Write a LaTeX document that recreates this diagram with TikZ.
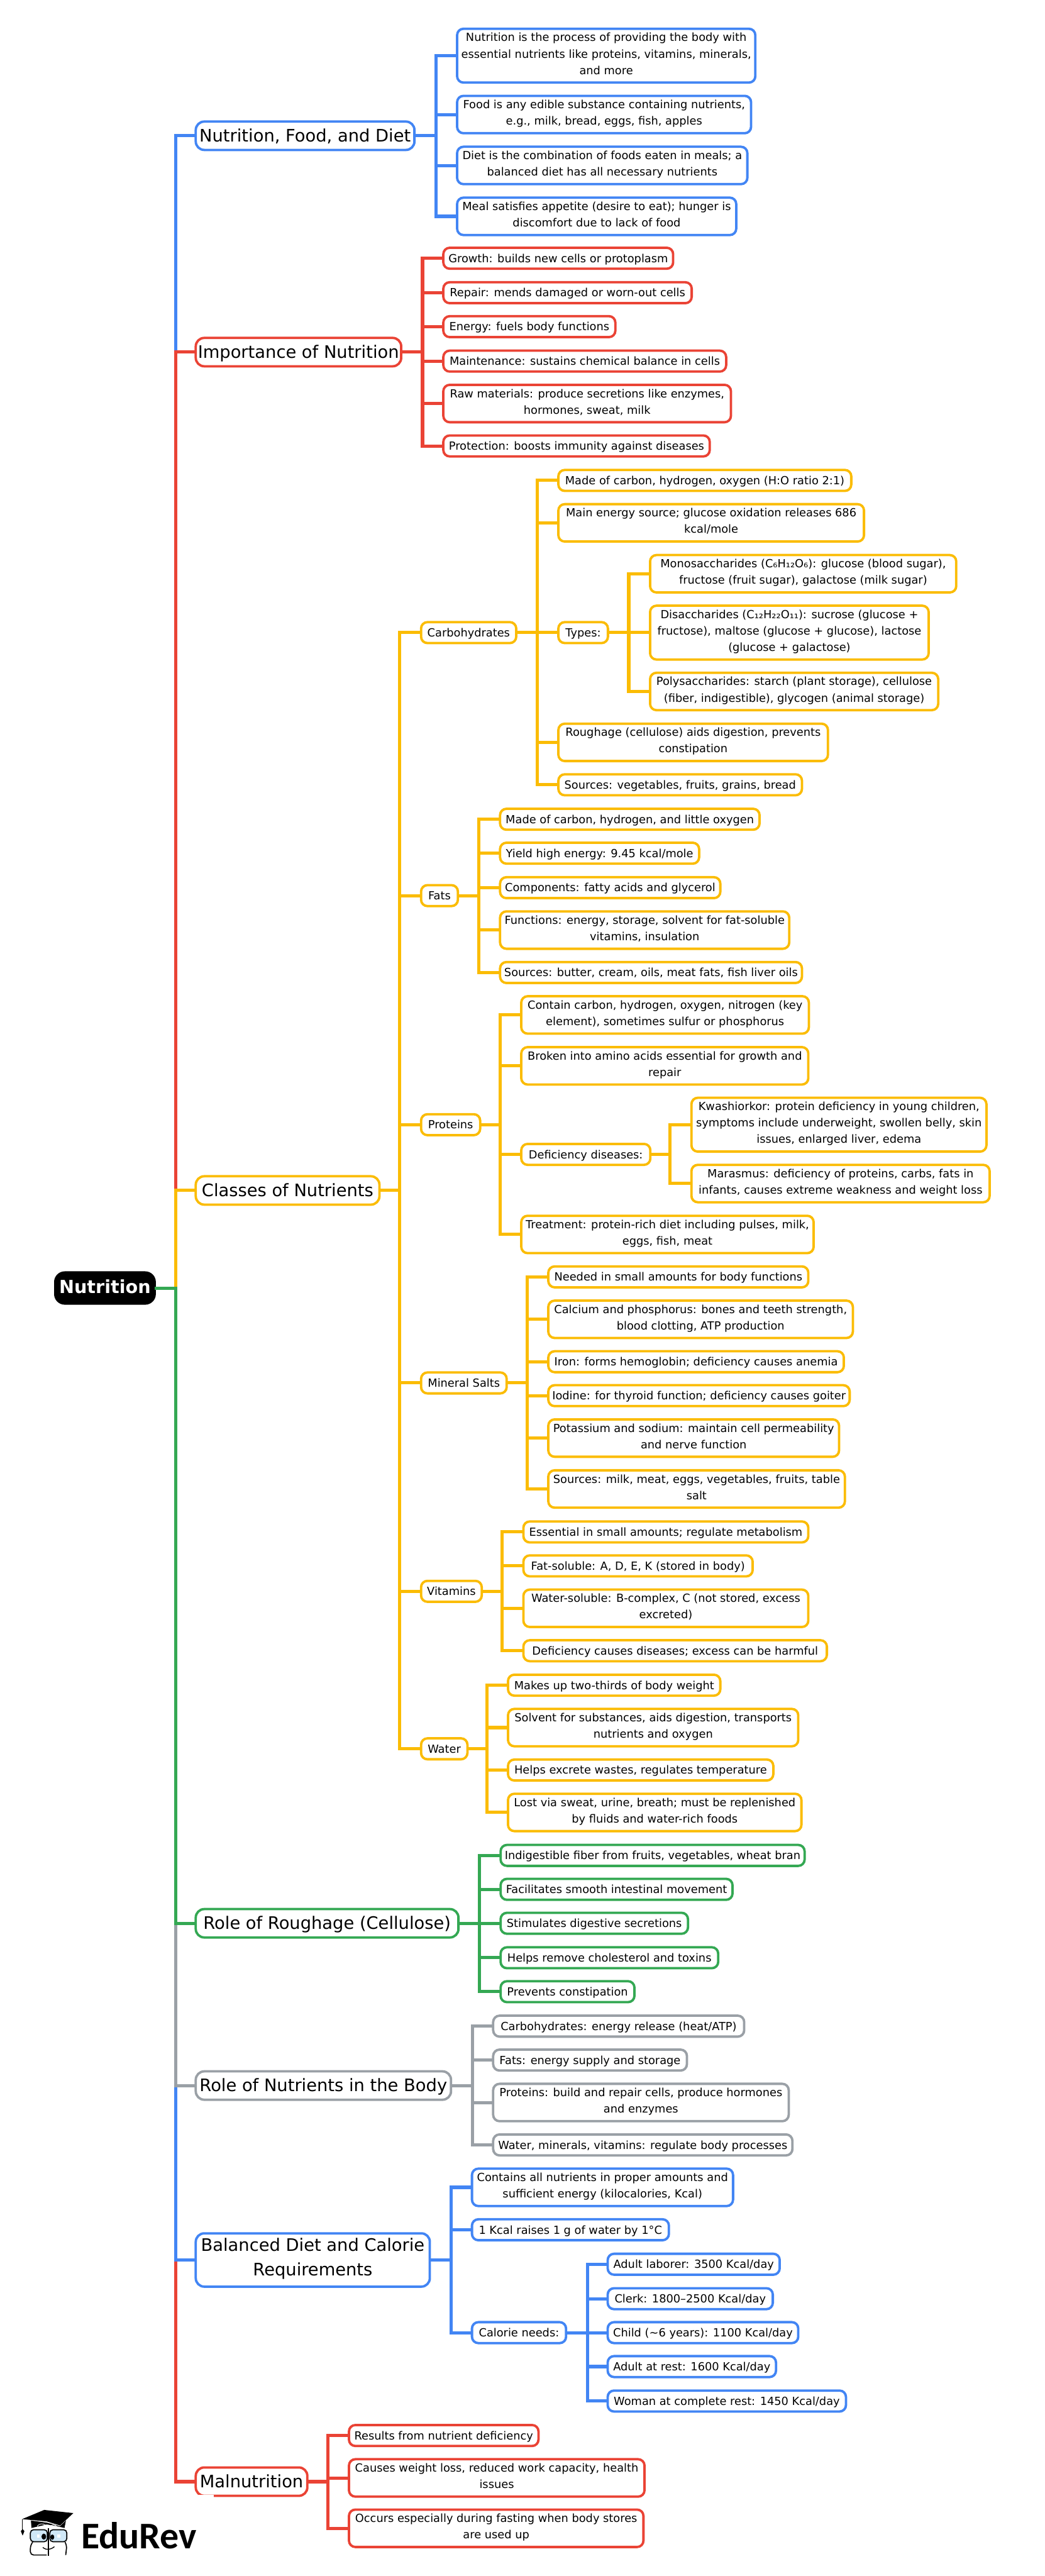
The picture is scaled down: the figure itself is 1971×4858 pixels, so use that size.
\documentclass[tikz,border=0pt]{standalone}
\usepackage{fontspec}
\setmainfont{DejaVu Sans}
\newfontfamily\logofont{Carlito}
\usepackage{tikz}
\definecolor{gblue}{RGB}{66,133,244}
\definecolor{gred}{RGB}{234,67,53}
\definecolor{gyellow}{RGB}{251,188,4}
\definecolor{ggreen}{RGB}{52,168,83}
\definecolor{ggray}{RGB}{154,160,166}
\definecolor{glass}{RGB}{208,232,247}
\newcommand\boxstrut{\vrule width0pt height.75\baselineskip depth.25\baselineskip}
\tikzset{wd/.style={minimum width={(#1-4.5)*0.5pt},xshift=1.125pt}}
\tikzstyle{box}=[draw,fill=white,line width=2.25pt,align=center,anchor=west,outer sep=0pt,inner sep=0pt,execute at begin node=\boxstrut,execute at end node=\boxstrut]
\tikzstyle{leaf}=[box,rounded corners=6pt,font=\fontsize{10.55}{15.5}\selectfont]
\tikzstyle{onel}=[minimum height=19.75pt]
\tikzstyle{twol}=[minimum height=35.25pt]
\tikzstyle{threel}=[minimum height=50.75pt]
\tikzstyle{bleaf}=[leaf,draw=gblue]
\tikzstyle{rleaf}=[leaf,draw=gred]
\tikzstyle{yleaf}=[leaf,draw=gyellow]
\tikzstyle{gleaf}=[leaf,draw=ggreen]
\tikzstyle{kleaf}=[leaf,draw=ggray]
\tikzstyle{main}=[box,rounded corners=8pt,font=\fontsize{16.2}{23}\selectfont]
\tikzstyle{blueln}=[draw=gblue,line width=3pt]
\tikzstyle{redln}=[draw=gred,line width=3pt]
\tikzstyle{yellowln}=[draw=gyellow,line width=3pt]
\tikzstyle{greenln}=[draw=ggreen,line width=3pt]
\tikzstyle{grayln}=[draw=ggray,line width=3pt]
\begin{document}
\begin{tikzpicture}[x=0.5pt,y=-0.5pt]
\useasboundingbox (0,0) rectangle (1971,4858);

% root and main branches
\node[box,draw=black,fill=black,text=white,rounded corners=9pt,wd=192,minimum height=29.25pt,font=\fontsize{17}{20}\selectfont\bfseries] (nutr) at (102,2429) {Nutrition};
\node[main,draw=gblue,wd=417,minimum height=26.75pt] (nfd) at (367,256) {Nutrition, Food, and Diet};
\node[main,draw=gred,wd=392,minimum height=26.75pt] (imp) at (367,664) {Importance of Nutrition};
\node[main,draw=gyellow,wd=351,minimum height=26.75pt] (cls) at (367,2245) {Classes of Nutrients};
\node[main,draw=ggreen,wd=500,minimum height=26.75pt] (rough) at (367,3627) {Role of Roughage (Cellulose)};
\node[main,draw=ggray,wd=486,minimum height=26.75pt] (role) at (367,3933) {Role of Nutrients in the Body};
\node[main,draw=gblue,wd=446,minimum height=50.25pt] (bal) at (367,4262) {Balanced Diet and Calorie\\Requirements};
\node[main,draw=gred,wd=215,minimum height=26.75pt] (mal) at (367,4680) {Malnutrition};

% nutrition, food, diet
\node[bleaf,threel,wd=567] (nfdA) at (860,105) {Nutrition is the process of providing the body with\\essential nutrients like proteins, vitamins, minerals,\\and more};
\node[bleaf,twol,wd=559] (nfdB) at (860,216) {Food is any edible substance containing nutrients,\\e.g., milk, bread, eggs, fish, apples};
\node[bleaf,twol,wd=552] (nfdC) at (860,312) {Diet is the combination of foods eaten in meals; a\\balanced diet has all necessary nutrients};
\node[bleaf,twol,wd=531] (nfdD) at (860,408) {Meal satisfies appetite (desire to eat); hunger is\\discomfort due to lack of food};

% importance
\node[rleaf,onel,wd=438] (impA) at (834,487) {Growth: builds new cells or protoplasm};
\node[rleaf,onel,wd=473] (impB) at (834,552) {Repair: mends damaged or worn-out cells};
\node[rleaf,onel,wd=329] (impC) at (834,616) {Energy: fuels body functions};
\node[rleaf,onel,wd=538] (impD) at (834,681) {Maintenance: sustains chemical balance in cells};
\node[rleaf,twol,wd=547] (impE) at (834,761) {Raw materials: produce secretions like enzymes,\\hormones, sweat, milk};
\node[rleaf,onel,wd=507] (impF) at (834,841) {Protection: boosts immunity against diseases};

% classes
\node[yleaf,onel,wd=184] (carb) at (792,1193) {Carbohydrates};
\node[yleaf,onel,wd=74] (fats) at (792,1689) {Fats};
\node[yleaf,onel,wd=116] (prot) at (792,2121) {Proteins};
\node[yleaf,onel,wd=166] (salt) at (792,2608) {Mineral Salts};
\node[yleaf,onel,wd=119] (vita) at (792,3001) {Vitamins};
\node[yleaf,onel,wd=92] (watr) at (792,3298) {Water};

% carbohydrates
\node[yleaf,onel,wd=557] (carbA) at (1051,906) {Made of carbon, hydrogen, oxygen (H:O ratio 2:1)};
\node[yleaf,twol,wd=581] (carbB) at (1051,986) {Main energy source; glucose oxidation releases 686\\kcal/mole};
\node[yleaf,onel,wd=98] (types) at (1051,1193) {Types:};
\node[yleaf,twol,wd=513] (carbD) at (1051,1400) {Roughage (cellulose) aids digestion, prevents\\constipation};
\node[yleaf,onel,wd=464] (carbE) at (1051,1480) {Sources: vegetables, fruits, grains, bread};
\node[yleaf,twol,wd=582] (typeA) at (1224,1082) {Monosaccharides (C₆H₁₂O₆): glucose (blood sugar),\\fructose (fruit sugar), galactose (milk sugar)};
\node[yleaf,threel,wd=530] (typeB) at (1224,1193) {Disaccharides (C₁₂H₂₂O₁₁): sucrose (glucose +\\fructose), maltose (glucose + glucose), lactose\\(glucose + galactose)};
\node[yleaf,twol,wd=548] (typeC) at (1224,1304) {Polysaccharides: starch (plant storage), cellulose\\(fiber, indigestible), glycogen (animal storage)};

% fats
\node[yleaf,onel,wd=494] (fatsA) at (941,1545) {Made of carbon, hydrogen, and little oxygen};
\node[yleaf,onel,wd=380] (fatsB) at (941,1609) {Yield high energy: 9.45 kcal/mole};
\node[yleaf,onel,wd=420] (fatsC) at (941,1674) {Components: fatty acids and glycerol};
\node[yleaf,twol,wd=550] (fatsD) at (941,1754) {Functions: energy, storage, solvent for fat-soluble\\vitamins, insulation};
\node[yleaf,onel,wd=574] (fatsE) at (941,1834) {Sources: butter, cream, oils, meat fats, fish liver oils};

% proteins
\node[yleaf,twol,wd=547] (protA) at (981,1914) {Contain carbon, hydrogen, oxygen, nitrogen (key\\element), sometimes sulfur or phosphorus};
\node[yleaf,twol,wd=546] (protB) at (981,2010) {Broken into amino acids essential for growth and\\repair};
\node[yleaf,onel,wd=248] (defi) at (981,2177) {Deficiency diseases:};
\node[yleaf,twol,wd=556] (protD) at (981,2328) {Treatment: protein-rich diet including pulses, milk,\\eggs, fish, meat};
\node[yleaf,threel,wd=561] (defiA) at (1302,2121) {Kwashiorkor: protein deficiency in young children,\\symptoms include underweight, swollen belly, skin\\issues, enlarged liver, edema};
\node[yleaf,twol,wd=567] (defiB) at (1302,2232) {Marasmus: deficiency of proteins, carbs, fats in\\infants, causes extreme weakness and weight loss};

% mineral salts
\node[yleaf,onel,wd=495] (saltA) at (1032,2408) {Needed in small amounts for body functions};
\node[yleaf,twol,wd=579] (saltB) at (1032,2488) {Calcium and phosphorus: bones and teeth strength,\\blood clotting, ATP production};
\node[yleaf,onel,wd=562] (saltC) at (1032,2568) {Iron: forms hemoglobin; deficiency causes anemia};
\node[yleaf,onel,wd=573] (saltD) at (1032,2632) {Iodine: for thyroid function; deficiency causes goiter};
\node[yleaf,twol,wd=553] (saltE) at (1032,2712) {Potassium and sodium: maintain cell permeability\\and nerve function};
\node[yleaf,twol,wd=564] (saltF) at (1032,2808) {Sources: milk, meat, eggs, vegetables, fruits, table\\salt};

% vitamins
\node[yleaf,onel,wd=542] (vitaA) at (985,2889) {Essential in small amounts; regulate metabolism};
\node[yleaf,onel,wd=437] (vitaB) at (985,2953) {Fat-soluble: A, D, E, K (stored in body)};
\node[yleaf,twol,wd=542] (vitaC) at (985,3033) {Water-soluble: B-complex, C (not stored, excess\\excreted)};
\node[yleaf,onel,wd=577] (vitaD) at (985,3113) {Deficiency causes diseases; excess can be harmful};

% water
\node[yleaf,onel,wd=405] (watrA) at (956,3178) {Makes up two-thirds of body weight};
\node[yleaf,twol,wd=552] (watrB) at (956,3258) {Solvent for substances, aids digestion, transports\\nutrients and oxygen};
\node[yleaf,onel,wd=505] (watrC) at (956,3338) {Helps excrete wastes, regulates temperature};
\node[yleaf,twol,wd=558] (watrD) at (956,3418) {Lost via sweat, urine, breath; must be replenished\\by fluids and water-rich foods};

% roughage
\node[gleaf,onel,wd=578] (rougA) at (942,3499) {Indigestible fiber from fruits, vegetables, wheat bran};
\node[gleaf,onel,wd=442] (rougB) at (942,3563) {Facilitates smooth intestinal movement};
\node[gleaf,onel,wd=358] (rougC) at (942,3627) {Stimulates digestive secretions};
\node[gleaf,onel,wd=415] (rougD) at (942,3692) {Helps remove cholesterol and toxins};
\node[gleaf,onel,wd=257] (rougE) at (942,3756) {Prevents constipation};

% nutrients in the body
\node[kleaf,onel,wd=478] (roleA) at (928,3821) {Carbohydrates: energy release (heat/ATP)};
\node[kleaf,onel,wd=370] (roleB) at (928,3885) {Fats: energy supply and storage};
\node[kleaf,twol,wd=562] (roleC) at (928,3965) {Proteins: build and repair cells, produce hormones\\and enzymes};
\node[kleaf,onel,wd=569] (roleD) at (928,4045) {Water, minerals, vitamins: regulate body processes};

% balanced diet
\node[bleaf,twol,wd=497] (balA) at (888,4125) {Contains all nutrients in proper amounts and\\sufficient energy (kilocalories, Kcal)};
\node[bleaf,onel,wd=376] (balB) at (888,4205) {1 Kcal raises 1 g of water by 1°C};
\node[bleaf,onel,wd=182] (need) at (888,4399) {Calorie needs:};
\node[bleaf,onel,wd=329] (needA) at (1144,4270) {Adult laborer: 3500 Kcal/day};
\node[bleaf,onel,wd=316] (needB) at (1144,4335) {Clerk: 1800–2500 Kcal/day};
\node[bleaf,onel,wd=364] (needC) at (1144,4399) {Child (\char`\~6 years): 1100 Kcal/day};
\node[bleaf,onel,wd=322] (needD) at (1144,4463) {Adult at rest: 1600 Kcal/day};
\node[bleaf,onel,wd=454] (needE) at (1144,4528) {Woman at complete rest: 1450 Kcal/day};

% malnutrition
\node[rleaf,onel,wd=362] (malA) at (656,4593) {Results from nutrient deficiency};
\node[rleaf,twol,wd=562] (malB) at (656,4673) {Causes weight loss, reduced work capacity, health\\issues};
\node[rleaf,twol,wd=560] (malC) at (656,4768) {Occurs especially during fasting when body stores\\are used up};

% vertical bus lines
\coordinate (busmain) at (331,0);
\coordinate (busnfd) at (822,0);
\coordinate (busimp) at (797,0);
\coordinate (buscls) at (754,0);
\coordinate (buscarb) at (1013,0);
\coordinate (bustype) at (1186,0);
\coordinate (busfats) at (903,0);
\coordinate (busprot) at (944,0);
\coordinate (busdefi) at (1264,0);
\coordinate (bussalt) at (994,0);
\coordinate (busvita) at (947,0);
\coordinate (buswatr) at (919,0);
\coordinate (busroug) at (904,0);
\coordinate (busrole) at (891,0);
\coordinate (busbal) at (851,0);
\coordinate (busneed) at (1108,0);
\coordinate (busmal) at (618,0);

\foreach \c/\s in {nfd/blueln,imp/redln,cls/yellowln,mal/redln,bal/blueln,role/grayln,rough/greenln}
  \draw[\s] (nutr.east) -- (nutr.east -| busmain) |- (\c.west);
\foreach \c in {nfdA,nfdB,nfdC,nfdD}
  \draw[blueln] (nfd.east) -- (nfd.east -| busnfd) |- (\c.west);
\foreach \c in {impA,impB,impC,impD,impE,impF}
  \draw[redln] (imp.east) -- (imp.east -| busimp) |- (\c.west);
\foreach \c in {carb,fats,prot,salt,vita,watr}
  \draw[yellowln] (cls.east) -- (cls.east -| buscls) |- (\c.west);
\foreach \c in {carbA,carbB,types,carbD,carbE}
  \draw[yellowln] (carb.east) -- (carb.east -| buscarb) |- (\c.west);
\foreach \c in {typeA,typeB,typeC}
  \draw[yellowln] (types.east) -- (types.east -| bustype) |- (\c.west);
\foreach \c in {fatsA,fatsB,fatsC,fatsD,fatsE}
  \draw[yellowln] (fats.east) -- (fats.east -| busfats) |- (\c.west);
\foreach \c in {protA,protB,defi,protD}
  \draw[yellowln] (prot.east) -- (prot.east -| busprot) |- (\c.west);
\foreach \c in {defiA,defiB}
  \draw[yellowln] (defi.east) -- (defi.east -| busdefi) |- (\c.west);
\foreach \c in {saltA,saltB,saltC,saltD,saltE,saltF}
  \draw[yellowln] (salt.east) -- (salt.east -| bussalt) |- (\c.west);
\foreach \c in {vitaA,vitaB,vitaC,vitaD}
  \draw[yellowln] (vita.east) -- (vita.east -| busvita) |- (\c.west);
\foreach \c in {watrA,watrB,watrC,watrD}
  \draw[yellowln] (watr.east) -- (watr.east -| buswatr) |- (\c.west);
\foreach \c in {rougA,rougB,rougC,rougD,rougE}
  \draw[greenln] (rough.east) -- (rough.east -| busroug) |- (\c.west);
\foreach \c in {roleA,roleB,roleC,roleD}
  \draw[grayln] (role.east) -- (role.east -| busrole) |- (\c.west);
\foreach \c in {balA,balB,need}
  \draw[blueln] (bal.east) -- (bal.east -| busbal) |- (\c.west);
\foreach \c in {needA,needB,needC,needD,needE}
  \draw[blueln] (need.east) -- (need.east -| busneed) |- (\c.west);
\foreach \c in {malA,malB,malC}
  \draw[redln] (mal.east) -- (mal.east -| busmal) |- (\c.west);

% logo
\fill[white] (360,4705) rectangle (403,4716);
\begin{scope}[shift={(20,4640)},x=0.16667pt,y=-0.16667pt]
\fill (65,332) -- (190,280) -- (355,298) -- (280,368) -- (205,345) -- cycle;
\fill (115,340) -- (205,352) -- (280,372) -- (313,340) -- (305,382) -- (262,372) -- (205,362) -- (118,382) -- cycle;
\draw[white,line width=0.5pt] (150,372) .. controls (165,355) and (185,355) .. (200,368);
\draw[white,line width=0.5pt] (225,372) .. controls (235,362) and (250,362) .. (260,372);
\draw[line width=0.6pt] (68,332) -- (68,392);
\fill (58,400) -- (68,388) -- (78,400) -- (68,425) -- cycle;
\draw[fill=glass,line width=1pt,rounded corners=3pt] (112,392) rectangle (208,460);
\draw[fill=glass,line width=1pt,rounded corners=3pt] (222,392) rectangle (318,460);
\draw[line width=1.2pt] (213,385) -- (213,540);
\fill (188,431) ellipse (13 and 17);
\fill (236,434) ellipse (11 and 15);
\fill[white] (149,419) rectangle (165,435);
\fill[white] (264,419) rectangle (280,435);
\draw[line width=1pt,rounded corners=3pt] (125,462) -- (112,480) -- (112,535) -- (205,535);
\draw[line width=1pt,rounded corners=3pt] (308,462) -- (318,480) -- (312,535);
\draw[line width=0.8pt] (182,492) .. controls (205,510) and (225,505) .. (248,488);
\node[anchor=base west,inner sep=0pt,font=\logofont\bfseries\fontsize{35.5}{35.5}\selectfont] (logotext) at (398,500) {EduRev};
\end{scope}
\end{tikzpicture}
\end{document}
